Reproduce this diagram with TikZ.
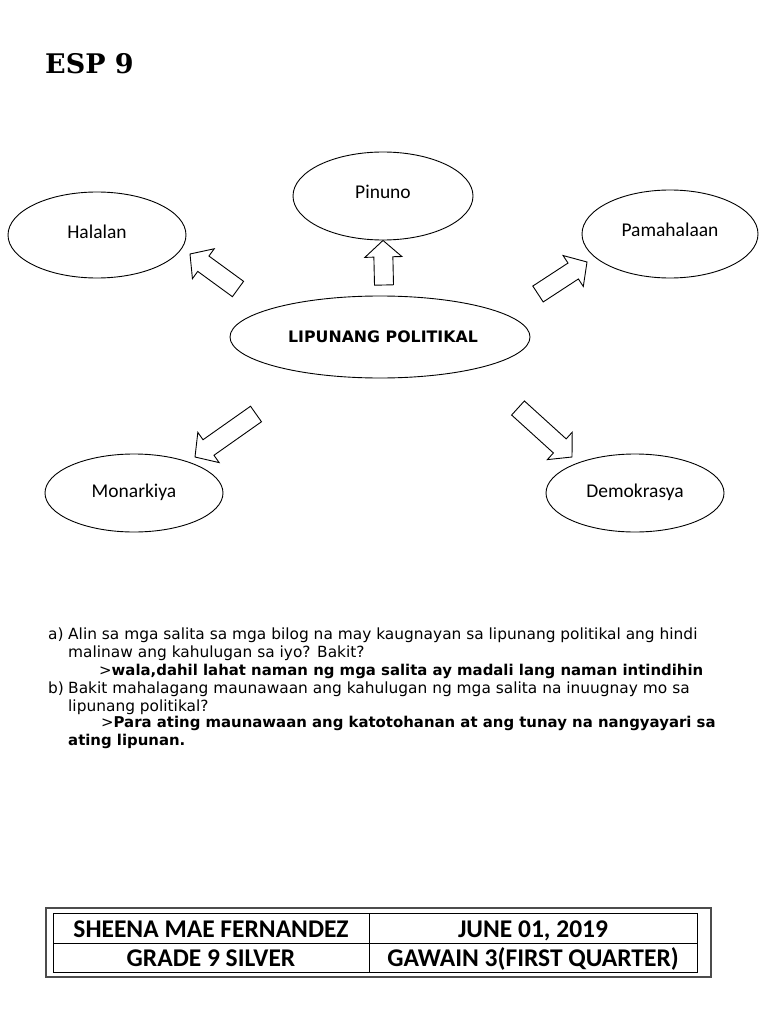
\documentclass[tikz,border=0pt]{standalone}
\usepackage{fontspec}
\setmainfont{DejaVu Sans}
\newfontfamily\carl{Carlito}
\newfontfamily\dvs{DejaVu Sans}
\newfontfamily\dvserif{DejaVu Serif}
\usetikzlibrary{calc,shapes.geometric}
\newcommand\blkarrow[2]{%
  \coordinate (nk) at ($(#2)!16.5pt!(#1)$);
  \draw[blk] ($(#1)!9.5pt!90:(#2)$) -- ($(nk)!9.5pt!90:(#2)$) -- ($(nk)!18.5pt!90:(#2)$) -- (#2)
    -- ($(nk)!18.5pt!-90:(#2)$) -- ($(nk)!9.5pt!-90:(#2)$) -- ($(#1)!9.5pt!-90:(#2)$) -- cycle;}
\begin{document}
\begin{tikzpicture}[x=1pt,y=-1pt,
  oval/.style={ellipse,draw,line width=0.9pt,inner sep=0pt},
  lbl/.style={font=\carl\fontsize{19.5}{21}\selectfont,inner sep=0pt},
  blk/.style={draw,line width=0.9pt,line join=miter,fill=white},
  qtext/.style={anchor=base west,inner sep=0pt,font=\dvs\fontsize{15.4}{17}\selectfont},
  atext/.style={anchor=base west,inner sep=0pt,font=\dvs\bfseries\fontsize{14.9}{17}\selectfont},
  cell/.style={anchor=base,font=\carl\bfseries\fontsize{25.5}{27}\selectfont,inner sep=0pt}]
\useasboundingbox[fill=white] (0,0) rectangle (768,1024);

% title
\node[anchor=base west,inner sep=0pt,font=\dvserif\bfseries\fontsize{27}{30}\selectfont] (title) at (45,74) {ESP 9};

% ellipses
\node[oval,minimum width=180pt,minimum height=88pt] (pin) at (383,196) {};
\node[oval,minimum width=178pt,minimum height=86pt] (hal) at (97,235) {};
\node[oval,minimum width=176pt,minimum height=88pt] (pam) at (670,234) {};
\node[oval,minimum width=300pt,minimum height=82pt] (lip) at (380,337) {};
\node[oval,minimum width=178pt,minimum height=78pt] (mon) at (134,493) {};
\node[oval,minimum width=178pt,minimum height=78pt] (dem) at (635,493) {};

\node[lbl] (pinl) at ([yshift=4pt]pin.center) {Pinuno};
\node[lbl] (hall) at ([yshift=3pt]hal.center) {Halalan};
\node[lbl] (paml) at ([yshift=4pt]pam.center) {Pamahalaan};
\node[lbl] (monl) at ([yshift=1pt]mon.center) {Monarkiya};
\node[lbl] (deml) at ([yshift=1pt]dem.center) {Demokrasya};
\node[inner sep=0pt,font=\dvs\bfseries\fontsize{15.8}{18}\selectfont] (lipl) at ([xshift=3pt]lip.center) {LIPUNANG POLITIKAL};

% block arrows
\coordinate (tpin) at (384,285);
\coordinate (thal) at (238,289); \coordinate (hhal) at (190,254);
\coordinate (tpam) at (538,294); \coordinate (hpam) at (587,262);
\coordinate (tmon) at (256,414); \coordinate (hmon) at (195,457);
\coordinate (tdem) at (518,408); \coordinate (hdem) at (572,457);
\blkarrow{tpin}{pin.south}
\blkarrow{thal}{hhal}
\blkarrow{tpam}{hpam}
\blkarrow{tmon}{hmon}
\blkarrow{tdem}{hdem}

% questions
\node[qtext] (qa) at (48,639) {a)};
\node[qtext] (qa1) at (68,639) {Alin sa mga salita sa mga bilog na may kaugnayan sa lipunang politikal ang hindi};
\node[qtext] (qa2) at (68,657) {malinaw ang kahulugan sa iyo? Bakit?};
\node[atext] (aa) at (99,675) {{\mdseries >}wala,dahil lahat naman ng mga salita ay madali lang naman intindihin};
\node[qtext] (qb) at (48,693) {b)};
\node[qtext] (qb1) at (68,693) {Bakit mahalagang maunawaan ang kahulugan ng mga salita na inuugnay mo sa};
\node[qtext] (qb2) at (68,711) {lipunang politikal?};
\node[atext] (ab) at (101,727) {{\mdseries >}Para ating maunawaan ang katotohanan at ang tunay na nangyayari sa};
\node[atext] (ab2) at (68,745) {ating lipunan.};

% table
\draw[line width=1.3pt,draw=black!70] (46,908) rectangle (711,977);
\draw[line width=1pt] (53,913) rectangle (697,972);
\draw[line width=1pt] (53,943) -- (697,943);
\draw[line width=1pt] (369,913) -- (369,972);
\node[cell] (c11) at (211,937) {SHEENA MAE FERNANDEZ};
\node[cell] (c12) at (533,937) {JUNE 01, 2019};
\node[cell] (c21) at (211,966) {GRADE 9 SILVER};
\node[cell] (c22) at (533,966) {GAWAIN 3(FIRST QUARTER)};
\end{tikzpicture}
\end{document}
